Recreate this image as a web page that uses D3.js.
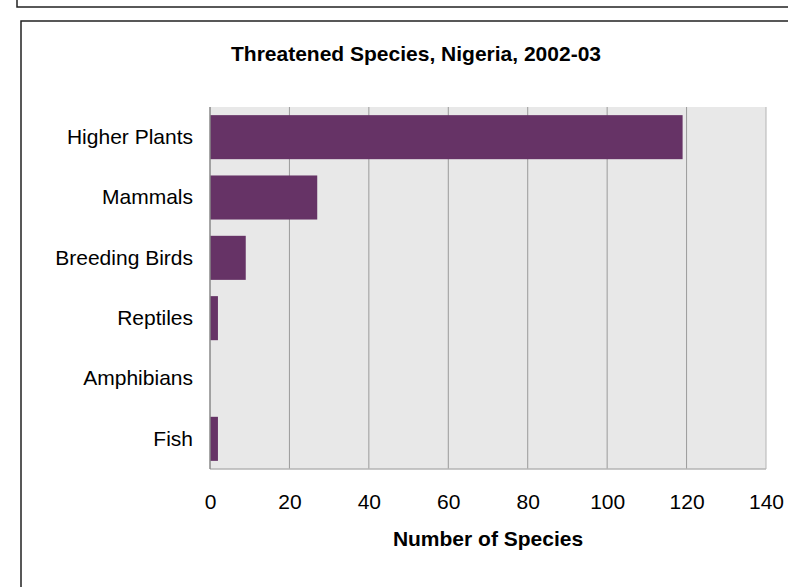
<!DOCTYPE html>
<html lang="en">
<head>
    <meta charset="UTF-8">
    <title>Threatened Species, Nigeria</title>
    <script src="https://cdn.jsdelivr.net/npm/d3@7"></script>
    <style>
        body { margin: 0; background: #fff; }
        text { font-family: "Liberation Sans", Arial, sans-serif; fill: #000; }
    </style>
</head>
<body>
<script>
    // data
    const categories = ['Higher Plants', 'Mammals', 'Breeding Birds', 'Reptiles', 'Amphibians', 'Fish']
    const species = [119, 27, 9, 2, 0, 2]
    const xTicks = [0, 20, 40, 60, 80, 100, 120, 140]

    const [width, height] = [788, 587]
    const plot = {left: 210, right: 766, top: 107, bottom: 469}

    const svg = d3.select('body').append('svg')
        .attr('width', width)
        .attr('height', height)

    // frames around the chart
    svg.append('rect')
        .attr('x', 17).attr('y', -20)
        .attr('width', 800).attr('height', 27)
        .attr('fill', 'none').attr('stroke', '#222').attr('stroke-width', 1.5)
    svg.append('rect')
        .attr('x', 21).attr('y', 21)
        .attr('width', 790).attr('height', 600)
        .attr('fill', '#fff').attr('stroke', '#222').attr('stroke-width', 1.5)

    const x = d3.scaleLinear()
        .domain([0, 140])
        .range([plot.left, plot.right])
    const y = d3.scaleBand()
        .domain(categories)
        .range([plot.top, plot.bottom])
        .paddingInner(0.27)
        .paddingOuter(0.135)

    const g = svg.append('g')

    g.append('rect')
        .attr('x', plot.left).attr('y', plot.top)
        .attr('width', plot.right - plot.left)
        .attr('height', plot.bottom - plot.top)
        .attr('fill', '#e8e8e8')

    // vertical grid lines
    g.selectAll('line.grid').data(xTicks.slice(1))
        .enter().append('line')
        .attr('class', 'grid')
        .attr('x1', d => x(d)).attr('x2', d => x(d))
        .attr('y1', plot.top).attr('y2', plot.bottom)
        .attr('stroke', d => d === 140 ? '#b4b4b4' : '#9a9a9a')
        .attr('stroke-width', 1)

    g.selectAll('rect.bar').data(species)
        .enter().append('rect')
        .attr('class', 'bar')
        .attr('x', x(0))
        .attr('y', (d, i) => y(categories[i]))
        .attr('width', d => x(d) - x(0))
        .attr('height', y.bandwidth())
        .attr('fill', '#663366')

    // axis lines
    g.append('line')
        .attr('x1', plot.left).attr('x2', plot.right)
        .attr('y1', plot.bottom).attr('y2', plot.bottom)
        .attr('stroke', '#b4b4b4').attr('stroke-width', 1.5)
    g.append('line')
        .attr('x1', plot.left).attr('x2', plot.left)
        .attr('y1', plot.top).attr('y2', plot.bottom)
        .attr('stroke', '#888').attr('stroke-width', 1.5)

    const xAxis = d3.axisBottom(x).tickValues(xTicks).tickSize(0).tickPadding(40)
    const xg = g.append('g')
        .attr('transform', `translate(0, ${plot.bottom})`)
        .call(xAxis)
    xg.select('.domain').remove()
    xg.selectAll('text').style('font-size', '21px').attr('dy', '0')

    const yAxis = d3.axisLeft(y).tickSize(0).tickPadding(17)
    const yg = g.append('g')
        .attr('transform', `translate(${plot.left}, 0)`)
        .call(yAxis)
    yg.select('.domain').remove()
    yg.selectAll('text').style('font-size', '21px')

    svg.append('text')
        .attr('x', 416).attr('y', 61)
        .attr('text-anchor', 'middle')
        .style('font-size', '21px').style('font-weight', 'bold')
        .text('Threatened Species, Nigeria, 2002-03')

    svg.append('text')
        .attr('x', (plot.left + plot.right) / 2).attr('y', 546)
        .attr('text-anchor', 'middle')
        .style('font-size', '21px').style('font-weight', 'bold')
        .text('Number of Species')
</script>
</body>
</html>
